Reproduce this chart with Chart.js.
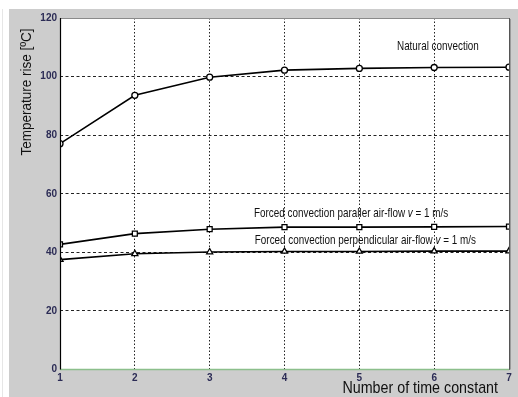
<!DOCTYPE html>
<html><head><meta charset="utf-8">
<script src="https://cdn.jsdelivr.net/npm/chart.js@4/dist/chart.umd.min.js"></script>
<style>html,body{margin:0;padding:0;background:#fff;}#wrap{width:518px;height:397px;}</style>
</head><body><div id="wrap"><canvas id="c" width="518" height="397"></canvas></div>
<script>
const timeConstants = [1, 2, 3, 4, 5, 6, 7];
const naturalConvection = [77.1, 93.6, 99.8, 102.2, 102.8, 103.1, 103.2];
const forcedParallel = [42.7, 46.4, 47.9, 48.6, 48.6, 48.7, 48.8];
const forcedPerpendicular = [37.5, 39.5, 40.1, 40.3, 40.3, 40.4, 40.4];
const yTicks = [0, 20, 40, 60, 80, 100, 120];
const yTitle = 'Temperature rise [ºC]';
const xTitle = 'Number of time constant';
const annotations = [
  {x: 6.05, y: 110.3, parts: [['Natural convection', false]]},
  {x: 4.89, y: 53.2, parts: [['Forced convection paraller air-flow ', false], ['v', true], [' = 1 m/s', false]]},
  {x: 5.08, y: 44.0, parts: [['Forced convection perpendicular air-flow ', false], ['v', true], [' = 1 m/s', false]]}
];

const sans = '"Liberation Sans", Arial, sans-serif';

// draw text horizontally condensed by factor k
function drawCondensed(ctx, parts, fontSize, k, cx, cy) {
  const fonts = parts.map(p => (p[1] ? 'italic ' : '') + fontSize + 'px ' + sans);
  let total = 0;
  parts.forEach((p, i) => { ctx.font = fonts[i]; total += ctx.measureText(p[0]).width; });
  ctx.save();
  ctx.translate(cx, cy);
  ctx.scale(k, 1);
  let x = -total / 2;
  ctx.textAlign = 'left';
  ctx.textBaseline = 'middle';
  parts.forEach((p, i) => { ctx.font = fonts[i]; ctx.fillText(p[0], x, 0); x += ctx.measureText(p[0]).width; });
  ctx.restore();
  return total * k;
}

const decor = {
  id: 'decor',
  beforeDraw(chart) {
    const ctx = chart.ctx, a = chart.chartArea;
    ctx.save();
    ctx.fillStyle = '#fff';
    ctx.fillRect(0, 0, chart.width, chart.height);
    ctx.fillStyle = '#e6e6e6';
    ctx.fillRect(2, 9, 1, chart.height - 9);
    ctx.fillStyle = '#cdcdcd';
    ctx.fillRect(9, 9, chart.width - 9, chart.height - 9);
    ctx.fillStyle = '#fff';
    ctx.fillRect(a.left, a.top, a.right - a.left, a.bottom - a.top);
    ctx.restore();
  },
  afterDatasetsDraw(chart) {
    const ctx = chart.ctx, a = chart.chartArea;
    const xs = chart.scales.x, ys = chart.scales.y;
    ctx.save();
    ctx.lineWidth = 1;
    ctx.strokeStyle = '#8a8a8a';
    ctx.beginPath(); ctx.moveTo(a.left, a.top + 0.5); ctx.lineTo(a.right, a.top + 0.5); ctx.stroke();
    ctx.strokeStyle = '#555';
    ctx.beginPath(); ctx.moveTo(a.right + 0.5, a.top); ctx.lineTo(a.right + 0.5, a.bottom); ctx.stroke();
    ctx.strokeStyle = '#9a9a9a';
    ctx.beginPath(); ctx.moveTo(a.right + 1.5, a.top + 1); ctx.lineTo(a.right + 1.5, a.bottom); ctx.stroke();
    ctx.strokeStyle = '#8cbf8c';
    ctx.lineWidth = 1.5;
    ctx.beginPath(); ctx.moveTo(a.left, a.bottom); ctx.lineTo(a.right, a.bottom); ctx.stroke();
    ctx.strokeStyle = '#000';
    ctx.lineWidth = 1.2;
    ctx.beginPath(); ctx.moveTo(a.left + 0.5, a.top); ctx.lineTo(a.left + 0.5, a.bottom); ctx.stroke();
    ctx.fillStyle = '#111';
    annotations.forEach(an => {
      drawCondensed(ctx, an.parts, 13, 0.76, xs.getPixelForValue(an.x), ys.getPixelForValue(an.y));
    });
    // x title (right aligned at 498)
    ctx.font = '17px ' + sans;
    const w = ctx.measureText(xTitle).width * 0.84;
    drawCondensed(ctx, [[xTitle, false]], 17, 0.84, 498 - w / 2, 388);
    // y title rotated
    ctx.save();
    ctx.translate(27, 92);
    ctx.rotate(-Math.PI / 2);
    drawCondensed(ctx, [[yTitle, false]], 15, 0.9, 0, 0);
    ctx.restore();
    ctx.restore();
  }
};

const mk = (label, data, style, r) => ({
  label, data: timeConstants.map((t, i) => ({x: t, y: data[i]})),
  borderColor: '#000', borderWidth: 1.6, pointStyle: style,
  pointRadius: r, pointBorderWidth: 1.3, pointBackgroundColor: '#fff', pointBorderColor: '#000',
  tension: 0, fill: false
});

new Chart(document.getElementById('c'), {
  type: 'line',
  data: {
    datasets: [
      mk('Natural convection', naturalConvection, 'circle', 3),
      mk('Forced convection paraller air-flow', forcedParallel, 'rect', 3.5),
      mk('Forced convection perpendicular air-flow', forcedPerpendicular, 'triangle', 3.5)
    ]
  },
  options: {
    responsive: false, animation: false,
    layout: {padding: {top: 18, right: 9, left: 0, bottom: 0}},
    plugins: {legend: {display: false}, tooltip: {enabled: false}},
    scales: {
      x: {
        type: 'linear', min: 1, max: 7,
        afterFit: s => { s.height = 27.5; },
        afterBuildTicks: s => { s.ticks = timeConstants.map(v => ({value: v})); },
        ticks: {color: '#2b2b55', font: {family: 'Arial, "Liberation Sans", sans-serif', size: 10, weight: 'bold'}, padding: 3, maxRotation: 0},
        grid: {color: '#222', lineWidth: 1, drawTicks: false},
        border: {display: false, dash: [1.5, 2]}
      },
      y: {
        type: 'linear', min: 0, max: 120,
        afterFit: s => { s.width = 60; },
        afterBuildTicks: s => { s.ticks = yTicks.map(v => ({value: v})); },
        ticks: {color: '#2b2b55', font: {family: 'Arial, "Liberation Sans", sans-serif', size: 10, weight: 'bold'}, padding: 3},
        grid: {color: '#222', lineWidth: 1, drawTicks: false},
        border: {display: false, dash: [3, 2.5]}
      }
    }
  },
  plugins: [decor]
});
</script></body></html>
